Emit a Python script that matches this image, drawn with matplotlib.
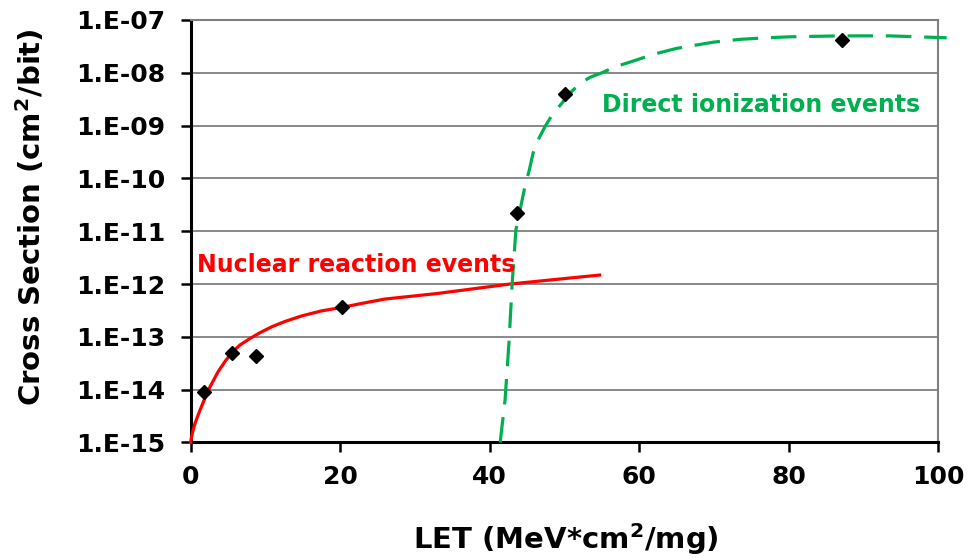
import numpy as np
import matplotlib
matplotlib.use("Agg")
import matplotlib.pyplot as plt

# measured cross sections
let_pts = [1.8, 5.55, 8.8, 20.3, 43.6, 50.1, 87.1]
xs_pts = [8.9e-15, 5.0e-14, 4.4e-14, 3.6e-13, 2.2e-11, 4.0e-9, 4.2e-8]

# nuclear reaction fit curve
nuc_let = [0, 0.25, 0.6, 1.27, 2.3, 3.05, 3.7, 4.6, 5.5, 6.6, 7.95, 9.3, 10.85, 12.6,
           14.9, 17.5, 20.2, 22.9, 26.0, 32.9, 42.7, 54.7]
nuc_xs = [1e-15, 1.5e-15, 2.3e-15, 4.1e-15, 9.3e-15, 1.48e-14, 2.2e-14, 3.4e-14, 5.0e-14,
          7.0e-14, 9.3e-14, 1.2e-13, 1.55e-13, 1.95e-13, 2.5e-13, 3.1e-13, 3.6e-13,
          4.3e-13, 5.2e-13, 6.6e-13, 1.0e-12, 1.48e-12]

# direct ionization fit curve
dir_let = [41.4, 42.05, 42.6, 43.0, 43.5, 44.7, 45.3, 45.8, 46.6, 47.4, 48.4, 49.6, 50.7,
           52.1, 53.4, 55.0, 56.75, 58.8, 61.9, 65.0, 69.9, 73.5, 77.0, 80.1, 86.8,
           93.5, 101.1]
dir_xs = [1e-15, 6.3e-15, 8.7e-14, 1.0e-12, 1.05e-11, 6.9e-11, 1.45e-10, 3.0e-10, 5.8e-10,
          9.6e-10, 1.63e-9, 2.6e-9, 4.1e-9, 6.3e-9, 8.2e-9, 1.0e-8, 1.3e-8, 1.6e-8,
          2.24e-8, 2.9e-8, 3.8e-8, 4.3e-8, 4.6e-8, 4.8e-8, 5.0e-8, 5.0e-8, 4.6e-8]

x_ticks = [0, 20, 40, 60, 80, 100]
y_ticks = [1e-15, 1e-14, 1e-13, 1e-12, 1e-11, 1e-10, 1e-9, 1e-8, 1e-7]
y_labels = ['1.E-15', '1.E-14', '1.E-13', '1.E-12', '1.E-11', '1.E-10', '1.E-09', '1.E-08', '1.E-07']

red = '#FF0000'
green = '#00B050'

plt.rcParams['font.family'] = 'DejaVu Sans'
plt.rcParams['font.weight'] = 'bold'
plt.rcParams['mathtext.default'] = 'bf'

fig = plt.figure(figsize=(9.69, 5.58), dpi=100)
ax = fig.add_axes([0.1966, 0.2070, 0.7719, 0.7572])

ax.set_yscale('log')
ax.set_xlim(0, 100)
ax.set_ylim(1e-15, 1e-7)

for y in y_ticks[1:]:
    ax.axhline(y, color='#7f7f7f', lw=1.3, zorder=1)

ax.plot(nuc_let, nuc_xs, color=red, lw=2.3, zorder=3, clip_on=False,
        solid_joinstyle='round')
ax.plot(dir_let, dir_xs, color=green, lw=2.3, dashes=(8, 4), zorder=3, clip_on=False)
ax.plot(let_pts, xs_pts, linestyle='none', marker='D', ms=7, color='black', zorder=4)

ax.text(0.85, 1.7e-12, 'Nuclear reaction events', color=red, fontsize=17,
        fontweight='bold', ha='left', va='baseline', zorder=5)
ax.text(55.0, 1.83e-9, 'Direct ionization events', color=green, fontsize=17,
        fontweight='bold', ha='left', va='baseline', zorder=5)

ax.set_xticks(x_ticks)
ax.set_xticklabels([str(v) for v in x_ticks])
ax.set_yticks(y_ticks)
ax.set_yticklabels(y_labels)
ax.minorticks_off()
ax.tick_params(axis='both', direction='out', length=7.5, width=1.8, color='black',
               labelsize=18)
ax.tick_params(axis='y', pad=10.5)
ax.tick_params(axis='x', pad=9)
for lab in ax.get_xticklabels() + ax.get_yticklabels():
    lab.set_fontweight('bold')

ax.spines['left'].set_color('black')
ax.spines['left'].set_linewidth(2.2)
ax.spines['bottom'].set_color('black')
ax.spines['bottom'].set_linewidth(2.2)
ax.spines['top'].set_color('#7f7f7f')
ax.spines['top'].set_linewidth(1.5)
ax.spines['right'].set_color('#7f7f7f')
ax.spines['right'].set_linewidth(1.5)

fig.text(566 / 969, 1 - 539 / 558, r'LET (MeV*cm$^{2}$/mg)', fontsize=21,
         fontweight='bold', ha='center', va='center')
fig.text(31 / 969, 1 - 217 / 558, r'Cross Section (cm$^{2}$/bit)', fontsize=21,
         fontweight='bold', ha='center', va='center', rotation=90)

fig.savefig('out.png', dpi=100)
